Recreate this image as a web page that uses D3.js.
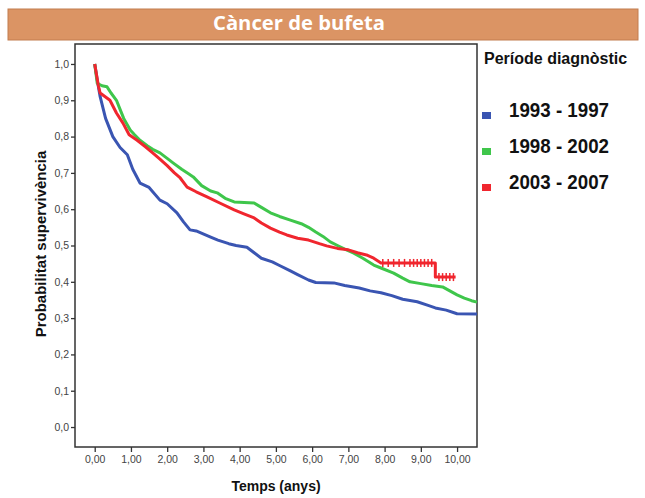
<!DOCTYPE html>
<html>
<head>
<meta charset="utf-8">
<script src="https://cdn.jsdelivr.net/npm/d3@7"></script>
<style>
    body { margin: 0; background: #ffffff; }
    svg { display: block; }
</style>
</head>
<body>
<script>
// Data
var seriesNames = ["1993 - 1997", "1998 - 2002", "2003 - 2007"];

var blueTimes = [0, 0.08, 0.15, 0.3, 0.5, 0.7, 0.9, 1.05, 1.25, 1.5, 1.8, 2.0, 2.27, 2.45, 2.63, 2.8, 3.2, 3.4, 3.7, 3.9, 4.2, 4.4, 4.6, 4.9, 5.1, 5.4, 5.6, 5.9, 6.1, 6.6, 6.9, 7.3, 7.6, 7.9, 8.2, 8.5, 8.9, 9.2, 9.4, 9.7, 10.0, 10.55];
var blueSurv  = [1.0, 0.95, 0.91, 0.85, 0.8, 0.77, 0.75, 0.71, 0.672, 0.66, 0.625, 0.615, 0.59, 0.565, 0.543, 0.54, 0.523, 0.515, 0.505, 0.5, 0.495, 0.48, 0.465, 0.455, 0.445, 0.43, 0.42, 0.405, 0.398, 0.397, 0.39, 0.383, 0.375, 0.37, 0.362, 0.352, 0.345, 0.335, 0.328, 0.322, 0.312, 0.311];

var greenTimes = [0, 0.07, 0.2, 0.34, 0.45, 0.6, 0.7, 0.8, 0.98, 1.1, 1.25, 1.45, 1.6, 1.8, 2.0, 2.17, 2.4, 2.6, 2.72, 2.95, 3.2, 3.38, 3.6, 3.85, 4.4, 4.6, 4.85, 5.1, 5.4, 5.7, 5.9, 6.1, 6.3, 6.5, 6.7, 6.9, 7.15, 7.4, 7.7, 7.9, 8.25, 8.5, 8.7, 9.0, 9.3, 9.6, 9.8, 10.0, 10.2, 10.4, 10.55];
var greenSurv  = [1.0, 0.947, 0.94, 0.937, 0.92, 0.9, 0.875, 0.85, 0.818, 0.805, 0.79, 0.775, 0.765, 0.755, 0.74, 0.727, 0.71, 0.697, 0.689, 0.665, 0.65, 0.645, 0.63, 0.62, 0.617, 0.605, 0.59, 0.58, 0.57, 0.56, 0.55, 0.537, 0.525, 0.51, 0.5, 0.49, 0.479, 0.465, 0.446, 0.438, 0.424, 0.41, 0.4, 0.395, 0.39, 0.386, 0.375, 0.364, 0.355, 0.348, 0.344];

var redTimes = [0, 0.05, 0.1, 0.15, 0.42, 0.6, 0.78, 0.95, 1.17, 1.4, 1.6, 1.8, 2.0, 2.2, 2.36, 2.55, 2.8, 3.1, 3.45, 3.85, 4.1, 4.4, 4.6, 4.85, 5.1, 5.3, 5.6, 5.9, 6.2, 6.4, 6.7, 7.0, 7.25, 7.5, 7.7, 7.9, 9.4, 9.4, 9.96];
var redSurv  = [1.0, 0.97, 0.94, 0.92, 0.9, 0.865, 0.837, 0.805, 0.79, 0.772, 0.755, 0.738, 0.72, 0.7, 0.686, 0.661, 0.648, 0.634, 0.617, 0.598, 0.588, 0.576, 0.562, 0.548, 0.537, 0.529, 0.52, 0.515, 0.505, 0.499, 0.492, 0.488, 0.48, 0.474, 0.465, 0.452, 0.452, 0.413, 0.413];

// censored cases (+ marks) on the 2003-2007 curve
var redCensor = [7.95, 8.1, 8.25, 8.4, 8.55, 8.7, 8.8, 8.9, 9.0, 9.1, 9.2, 9.3, 9.5, 9.6, 9.7, 9.8, 9.9];

var xTicks = [0, 1, 2, 3, 4, 5, 6, 7, 8, 9, 10];
var yTicks = [0, 0.1, 0.2, 0.3, 0.4, 0.5, 0.6, 0.7, 0.8, 0.9, 1.0];

// Colors
var colors = ["#3a55b2", "#3fc64b", "#f0262e"];

var series = [
    {name: seriesNames[0], times: blueTimes, surv: blueSurv},
    {name: seriesNames[1], times: greenTimes, surv: greenSurv},
    {name: seriesNames[2], times: redTimes, surv: redSurv}
];

var W = 645, H = 498;

var svg = d3.select("body").append("svg")
    .attr("width", W)
    .attr("height", H);

// Title banner
svg.append("rect")
    .attr("x", 8).attr("y", 9)
    .attr("width", 630).attr("height", 31)
    .attr("fill", "#db9464")
    .attr("stroke", "#c27c4f")
    .attr("stroke-width", 1);

svg.append("text")
    .attr("x", 213).attr("y", 30)
    .style("font-family", "'Open Sans', sans-serif")
    .style("font-weight", "bold")
    .style("font-size", "20px")
    .attr("textLength", 172)
    .attr("lengthAdjust", "spacingAndGlyphs")
    .attr("fill", "#ffffff")
    .text("Càncer de bufeta");

// Plot frame
var frame = {left: 75, right: 477, top: 44, bottom: 447};

var x = d3.scaleLinear()
    .domain([-0.544, 10.55])
    .range([frame.left, frame.right]);

var y = d3.scaleLinear()
    .domain([-0.055, 1.055])
    .range([frame.bottom, frame.top]);

svg.append("rect")
    .attr("x", frame.left).attr("y", frame.top)
    .attr("width", frame.right - frame.left)
    .attr("height", frame.bottom - frame.top)
    .attr("fill", "#ffffff")
    .attr("stroke", "#333333")
    .attr("stroke-width", 1.5);

// Axes
var yAxis = d3.axisLeft(y)
    .tickValues(yTicks)
    .tickSize(4)
    .tickPadding(2)
    .tickFormat(function (d) { return d3.format(".1f")(d).replace(".", ","); });

var xAxis = d3.axisBottom(x)
    .tickValues(xTicks)
    .tickSize(5)
    .tickPadding(4)
    .tickFormat(function (d) { return d3.format(".2f")(d).replace(".", ","); });

var gy = svg.append("g")
    .attr("transform", "translate(" + frame.left + ",0)")
    .call(yAxis);

var gx = svg.append("g")
    .attr("transform", "translate(0," + frame.bottom + ")")
    .call(xAxis);

[gx, gy].forEach(function (g) {
    g.select(".domain").remove();
    g.selectAll(".tick line").attr("stroke", "#333333").attr("stroke-width", 1.3);
    g.selectAll(".tick text")
        .attr("fill", "#444444")
        .style("font-family", "'Liberation Sans', Arial, sans-serif")
        .style("font-size", "10.5px");
});

// Axis labels
svg.append("text")
    .attr("x", 276).attr("y", 491)
    .attr("text-anchor", "middle")
    .style("font-family", "'Liberation Sans', Arial, sans-serif")
    .style("font-weight", "bold")
    .style("font-size", "14px")
    .attr("fill", "#111111")
    .text("Temps (anys)");

svg.append("text")
    .attr("transform", "translate(46,244) rotate(-90)")
    .attr("text-anchor", "middle")
    .style("font-family", "'Liberation Sans', Arial, sans-serif")
    .style("font-weight", "bold")
    .style("font-size", "15px")
    .attr("fill", "#111111")
    .text("Probabilitat supervivència");

// Survival curves
var line = d3.line()
    .x(function (d) { return x(d[0]); })
    .y(function (d) { return y(d[1]); });

series.forEach(function (s, i) {
    var pts = s.times.map(function (t, j) { return [t, s.surv[j]]; });
    svg.append("path")
        .datum(pts)
        .attr("fill", "none")
        .attr("stroke", colors[i])
        .attr("stroke-width", 3)
        .attr("stroke-linejoin", "round")
        .attr("d", line);
});

// Censor marks on the red curve (placed on the drawn line)
function survAt(times, surv, t) {
    for (var k = 1; k < times.length; k++) {
        if (t <= times[k]) {
            var f = (t - times[k - 1]) / (times[k] - times[k - 1]);
            return surv[k - 1] + f * (surv[k] - surv[k - 1]);
        }
    }
    return surv[surv.length - 1];
}

svg.selectAll(".censor")
    .data(redCensor)
    .enter().append("line")
    .attr("class", "censor")
    .attr("x1", function (d) { return x(d); })
    .attr("x2", function (d) { return x(d); })
    .attr("y1", function (d) { return y(survAt(redTimes, redSurv, d)) - 4; })
    .attr("y2", function (d) { return y(survAt(redTimes, redSurv, d)) + 4; })
    .attr("stroke", colors[2])
    .attr("stroke-width", 1.5);

// Legend
svg.append("text")
    .attr("x", 484).attr("y", 64)
    .style("font-family", "'Liberation Sans', Arial, sans-serif")
    .style("font-weight", "bold")
    .style("font-size", "16px")
    .attr("fill", "#111111")
    .text("Període diagnòstic");

var legend = svg.selectAll(".legend")
    .data(seriesNames)
    .enter().append("g")
    .attr("class", "legend")
    .attr("transform", function (d, i) { return "translate(0," + (117 + i * 36) + ")"; });

legend.append("rect")
    .attr("x", 482).attr("y", -5)
    .attr("width", 9).attr("height", 7)
    .attr("fill", function (d, i) { return colors[i]; });

legend.append("text")
    .attr("x", 509).attr("y", 0)
    .style("font-family", "'Liberation Sans', Arial, sans-serif")
    .style("font-weight", "bold")
    .style("font-size", "20px")
    .attr("textLength", 100)
    .attr("lengthAdjust", "spacingAndGlyphs")
    .attr("fill", "#111111")
    .text(function (d) { return d; });
</script>
</body>
</html>
